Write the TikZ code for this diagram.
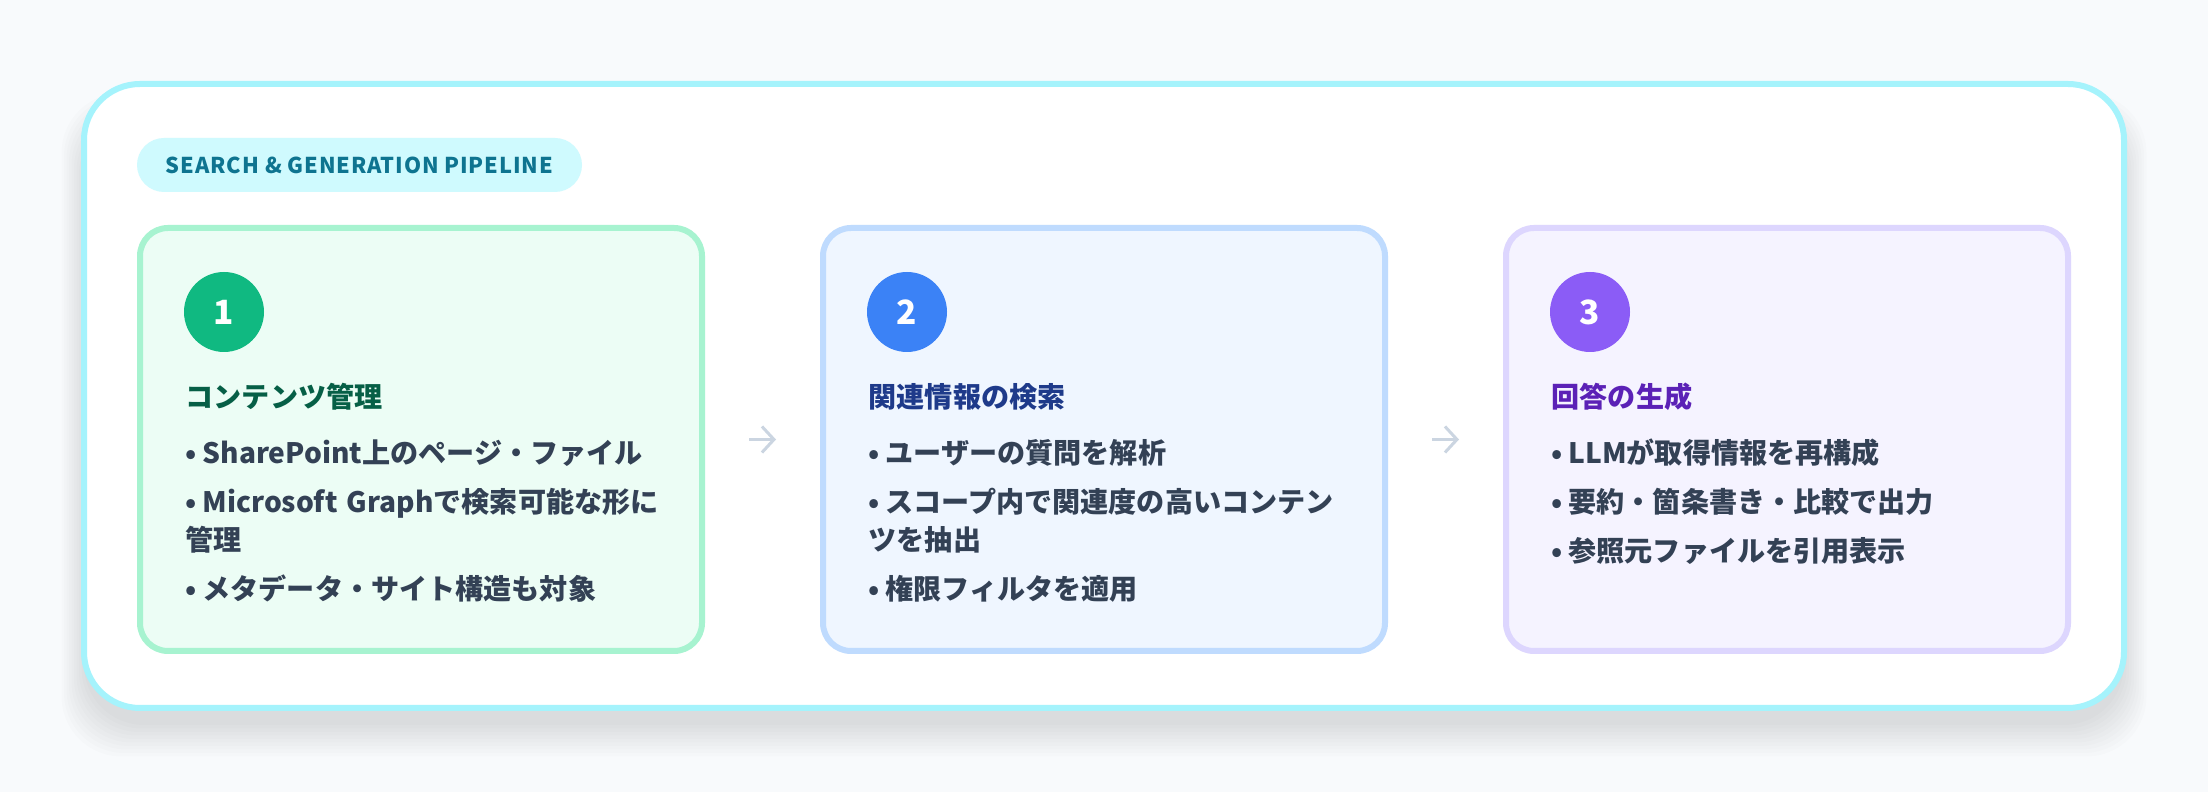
\documentclass[tikz,border=0pt]{standalone}
\usepackage{fontspec}
\setmainfont{Noto Sans CJK JP}
\newfontfamily\tagfont{Noto Sans CJK JP}[LetterSpace=4]
\usetikzlibrary{arrows.meta}
\usetikzlibrary{positioning}

\definecolor{pagebg}{HTML}{F8FAFC}
\definecolor{cardline}{HTML}{A5F3FC}
\definecolor{tagfill}{HTML}{CFFAFE}
\definecolor{tagtext}{HTML}{0E7490}
\definecolor{itemtext}{HTML}{334155}
\definecolor{arrowgray}{HTML}{CBD5E1}
\definecolor{greenfill}{HTML}{ECFDF5}
\definecolor{greenline}{HTML}{A7F3D0}
\definecolor{greendot}{HTML}{10B981}
\definecolor{greentitle}{HTML}{065F46}
\definecolor{bluefill}{HTML}{EFF6FF}
\definecolor{blueline}{HTML}{BFDBFE}
\definecolor{bluedot}{HTML}{3B82F6}
\definecolor{bluetitle}{HTML}{1E3A8A}
\definecolor{violetfill}{HTML}{F5F3FF}
\definecolor{violetline}{HTML}{DDD6FE}
\definecolor{violetdot}{HTML}{8B5CF6}
\definecolor{violettitle}{HTML}{5B21B6}

\tikzset{
  stepbox/.style={draw, line width=0.06cm, rounded corners=0.28cm,
    minimum width=5.62cm, minimum height=4.23cm, inner sep=0pt},
  stepnum/.style={circle, minimum size=0.8cm, inner sep=0pt, text=white,
    font=\fontsize{9.5}{9.5}\selectfont\bfseries},
  steptitle/.style={anchor=base west, inner sep=0pt,
    font=\fontsize{8}{10}\selectfont\bfseries},
  stepitem/.style={anchor=base west, inner sep=0pt, text width=5cm, align=left,
    text=itemtext, font=\fontsize{8}{10.8}\selectfont\bfseries},
  flowarrow/.style={-{Straight Barb[length=0.12cm, width=0.26cm]}, line width=0.03cm,
    draw=arrowgray, shorten <=0.44cm, shorten >=0.44cm},
}

\begin{document}
\begin{tikzpicture}
  \fill[pagebg] (0,0) rectangle (22.08,-7.92);
  % card shadow
  \foreach \i in {0,...,9}
    \fill[black, opacity=0.011, rounded corners=0.6cm]
      ({0.84-0.025*\i},{-1.2+0.03*\i}) rectangle ({21.24+0.025*\i},{-7.25-0.035*\i});
  \draw[cardline, fill=white, line width=0.06cm, rounded corners=0.56cm]
    (0.84,-0.84) rectangle (21.24,-7.08);

  \node[fill=tagfill, rounded corners=0.27cm, minimum width=4.45cm, minimum height=0.54cm,
    inner sep=0pt, text=tagtext, font=\tagfont\fontsize{6.2}{6.2}\selectfont\bfseries]
    (tag) at (3.595,-1.65) {SEARCH \& GENERATION PIPELINE};

  % the three steps
  \node[stepbox, draw=greenline, fill=greenfill] (c1) at (4.21,-4.395) {};
  \node[stepbox, draw=blueline, fill=bluefill] (c2) at (11.04,-4.395) {};
  \node[stepbox, draw=violetline, fill=violetfill] (c3) at (17.87,-4.395) {};

  \node[stepnum, fill=greendot] (n1) at (2.24,-3.12) {1};
  \node[stepnum, fill=bluedot] (n2) at (9.07,-3.12) {2};
  \node[stepnum, fill=violetdot] (n3) at (15.90,-3.12) {3};

  \node[steptitle, text=greentitle] (t1) at (1.85,-4.08) {コンテンツ管理};
  \node[steptitle, text=bluetitle] (t2) at (8.68,-4.08) {関連情報の検索};
  \node[steptitle, text=violettitle] (t3) at (15.51,-4.08) {回答の生成};

  \node[stepitem] (a1) at (1.85,-4.64) {•\hspace{0.2em}SharePoint上のページ・ファイル};
  \node[stepitem] (a2) at (1.85,-5.13) {•\hspace{0.2em}Microsoft Graphで検索可能な形に\\管理};
  \node[stepitem] (a3) at (1.85,-6.00) {•\hspace{0.2em}メタデータ・サイト構造も対象};

  \node[stepitem] (b1) at (8.68,-4.64) {•\hspace{0.2em}ユーザーの質問を解析};
  \node[stepitem] (b2) at (8.68,-5.13) {•\hspace{0.2em}スコープ内で関連度の高いコンテン\\ツを抽出};
  \node[stepitem] (b3) at (8.68,-6.00) {•\hspace{0.2em}権限フィルタを適用};

  \node[stepitem] (g1) at (15.51,-4.64) {•\hspace{0.2em}LLMが取得情報を再構成};
  \node[stepitem] (g2) at (15.51,-5.13) {•\hspace{0.2em}要約・箇条書き・比較で出力};
  \node[stepitem] (g3) at (15.51,-5.62) {•\hspace{0.2em}参照元ファイルを引用表示};

  \draw[flowarrow] (c1.east) -- (c2.west);
  \draw[flowarrow] (c2.east) -- (c3.west);
\end{tikzpicture}
\end{document}
